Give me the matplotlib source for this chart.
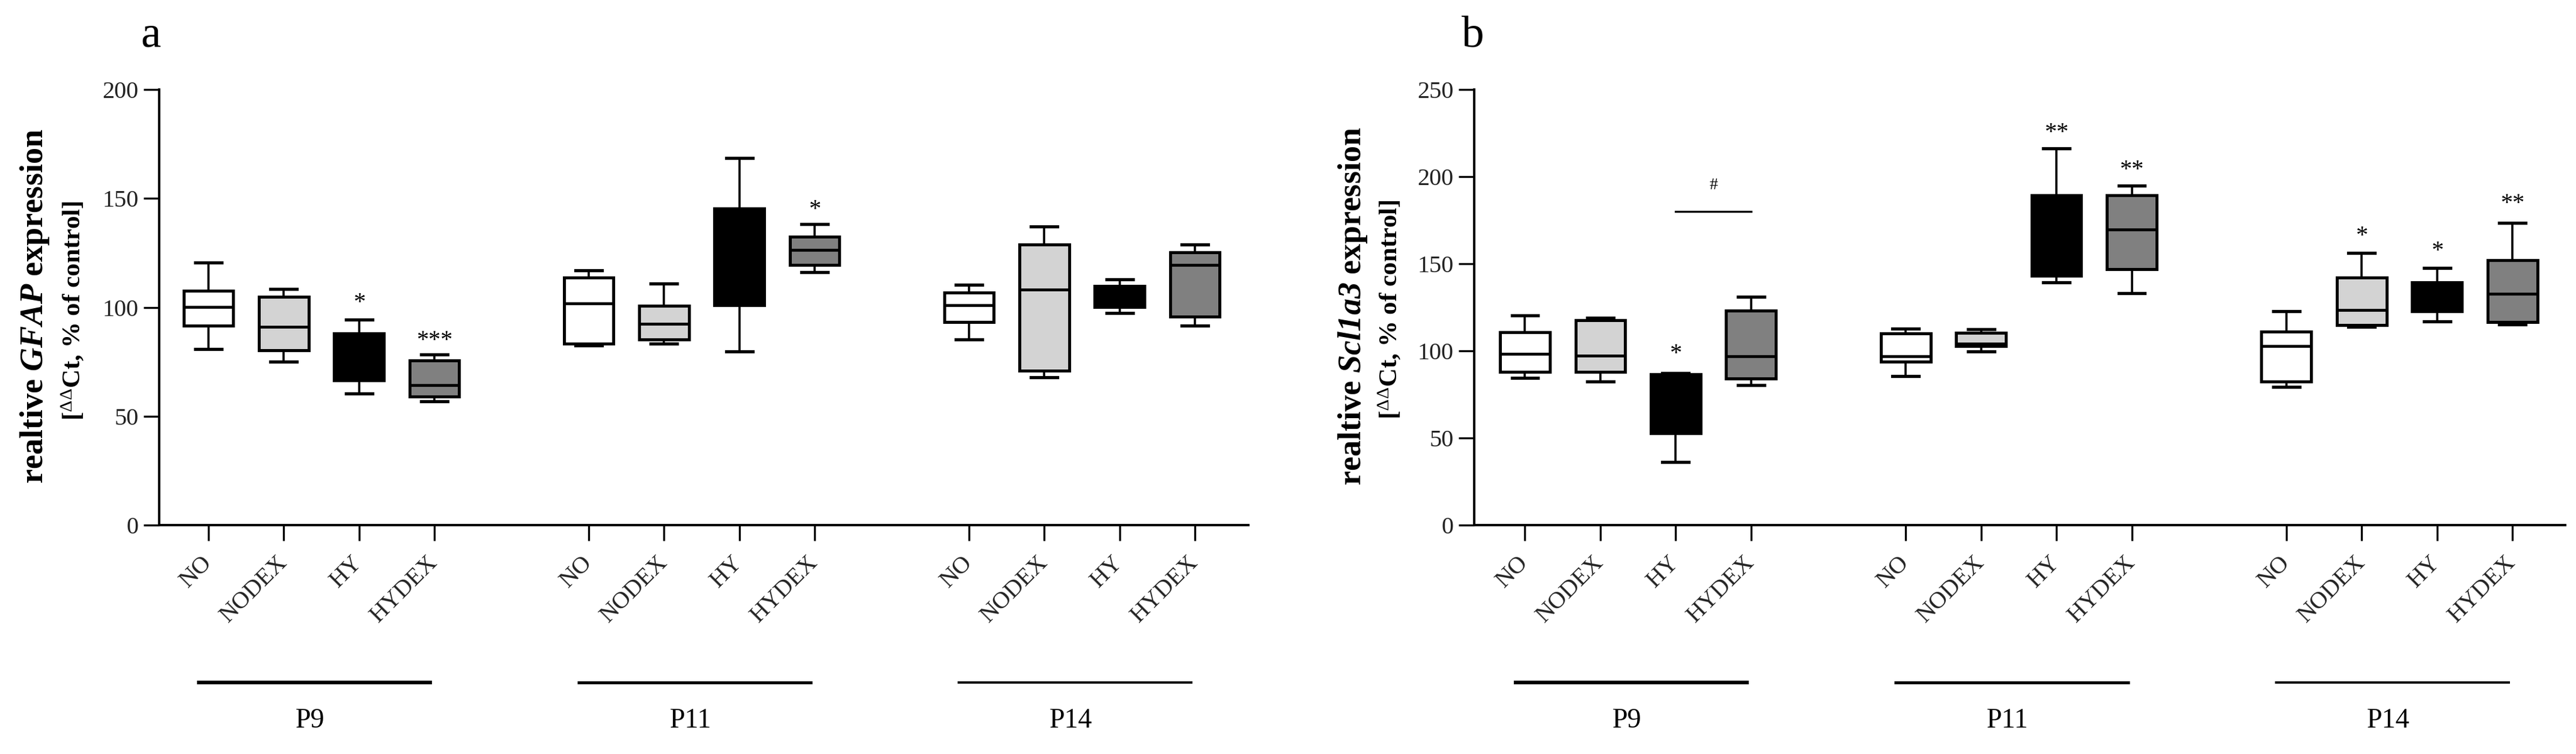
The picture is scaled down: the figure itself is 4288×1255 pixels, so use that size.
import matplotlib
matplotlib.use("Agg")
import matplotlib.pyplot as plt

plt.rcParams["font.family"] = ["Liberation Serif", "DejaVu Serif"]
plt.rcParams["mathtext.fontset"] = "custom"
plt.rcParams["mathtext.rm"] = "Liberation Serif"
plt.rcParams["mathtext.it"] = "Liberation Serif:italic"
plt.rcParams["mathtext.bf"] = "Liberation Serif:bold"
plt.rcParams["mathtext.bfit"] = "Liberation Serif:italic:bold"

groups = ["P9", "P11", "P14"]
conditions = ["NO", "NODEX", "HY", "HYDEX"]
box_colors = ["white", "#d3d3d3", "black", "#808080"]

# panel a: GFAP, box stats (P9 x4, P11 x4, P14 x4)
gfap_whishi = [120.5, 108.5, 94.3, 78.5, 117.0, 111.0, 168.5, 138.2, 110.5, 137.1, 112.8, 128.8]
gfap_q3 = [107.7, 105.0, 88.2, 75.8, 113.7, 100.8, 145.5, 132.5, 106.9, 129.0, 109.9, 125.3]
gfap_med = [100.3, 91.2, 79.5, 64.3, 101.9, 92.4, 124.8, 126.3, 101.0, 108.2, 107.0, 119.4]
gfap_q1 = [91.6, 80.4, 66.7, 59.2, 83.5, 85.4, 101.0, 119.6, 93.4, 71.0, 100.2, 95.9]
gfap_whislo = [80.9, 75.0, 60.5, 57.0, 82.5, 83.3, 79.9, 116.2, 85.4, 68.0, 97.5, 91.6]

# panel b: Scl1a3
scl_whishi = [120.5, 119.2, 87.5, 131.0, 113.0, 112.5, 216.1, 194.9, 122.7, 156.4, 147.7, 173.5]
scl_q3 = [110.8, 117.8, 86.5, 123.1, 110.2, 110.4, 189.5, 189.5, 111.0, 142.3, 139.4, 152.3]
scl_med = [98.4, 97.4, 73.6, 97.0, 97.1, 104.2, 144.4, 169.7, 102.7, 123.5, 129.5, 132.7]
scl_q1 = [88.1, 88.1, 52.9, 84.1, 93.8, 103.0, 143.3, 146.9, 82.7, 115.0, 123.0, 116.6]
scl_whislo = [84.5, 82.5, 36.4, 80.6, 85.8, 99.9, 139.5, 133.3, 79.4, 114.0, 116.9, 115.3]

# significance marks: box index, text, y (centre of the mark)
sig_a_idx = [2, 3, 7]
sig_a_text = ["*", "***", "*"]
sig_a_y = [105.8, 88.4, 148.7]

sig_b_idx = [2, 6, 7, 9, 10, 11]
sig_b_text = ["*", "**", "**", "*", "*", "**"]
sig_b_y = [103.0, 230.0, 208.5, 170.7, 161.8, 189.2]

bracket_b_idx = [2, 3]
bracket_b_y = 180
bracket_b_text = "#"
bracket_b_text_y = 195

GROUP_STEP = 5.05
positions = [g * GROUP_STEP + i for g in range(len(groups)) for i in range(len(conditions))]


def draw_panel(ax, whislo, q1, med, q3, whishi, ymax, xlim):
    stats = []
    for lo, a, m, b, hi in zip(whislo, q1, med, q3, whishi):
        stats.append({"whislo": lo, "q1": a, "med": m, "q3": b, "whishi": hi, "fliers": []})
    bp = ax.bxp(stats, positions=positions, widths=0.66, capwidths=0.35,
                patch_artist=True, showfliers=False,
                boxprops=dict(linewidth=1.8, edgecolor="black"),
                whiskerprops=dict(linewidth=1.3, color="black"),
                capprops=dict(linewidth=1.9, color="black"),
                medianprops=dict(linewidth=1.7, color="black"))
    for k, patch in enumerate(bp["boxes"]):
        patch.set_facecolor(box_colors[k % len(conditions)])

    ax.set_xlim(*xlim)
    ax.set_ylim(0, ymax)
    ax.set_yticks(range(0, ymax + 1, 50))
    ax.set_xticks(positions)
    ax.set_xticklabels(conditions * len(groups), rotation=45, ha="right", va="center",
                       rotation_mode="anchor")
    ax.spines["top"].set_visible(False)
    ax.spines["right"].set_visible(False)
    for s in ("left", "bottom"):
        ax.spines[s].set_linewidth(1.4)
    ax.tick_params(axis="both", length=9.4, width=1.2, labelsize=14.5, labelcolor="#222222")
    ax.tick_params(axis="y", pad=3)
    ax.tick_params(axis="x", pad=11)

    trans = ax.get_xaxis_transform()
    for g, (name, lw) in enumerate(zip(groups, [2.2, 1.8, 1.4])):
        p0 = g * GROUP_STEP
        ax.plot([p0 - 0.15, p0 + 2.97], [-0.36, -0.36], color="black", lw=lw,
                transform=trans, clip_on=False, solid_capstyle="butt")
        ax.text(p0 + 1.35, -0.448, name, transform=trans, ha="center", va="center",
                fontsize=16.5)


def add_sig(ax, idx, texts, ys, size=14.5):
    for i, t, y in zip(idx, texts, ys):
        ax.annotate(t, (positions[i], y), xytext=(0, -5), textcoords="offset points",
                    ha="center", va="center", fontsize=size)


fig = plt.figure(figsize=(21.44, 6.275), dpi=200)
ax_a = fig.add_axes([0.0618, 0.3032, 0.4228, 0.578])
ax_b = fig.add_axes([0.5723, 0.3032, 0.4235, 0.578])

draw_panel(ax_a, gfap_whislo, gfap_q1, gfap_med, gfap_q3, gfap_whishi, 200, (-0.654, 13.81))
draw_panel(ax_b, scl_whislo, scl_q1, scl_med, scl_q3, scl_whishi, 250, (-0.673, 13.8))

add_sig(ax_a, sig_a_idx, sig_a_text, sig_a_y)
add_sig(ax_b, sig_b_idx, sig_b_text, sig_b_y)

x0, x1 = positions[bracket_b_idx[0]], positions[bracket_b_idx[1]]
ax_b.plot([x0, x1], [bracket_b_y, bracket_b_y], color="black", lw=1.2)
ax_b.text((x0 + x1) / 2, bracket_b_text_y, bracket_b_text, ha="center", va="center", fontsize=10)

# y labels
fig.text(0.0136, 0.5936, r"realtive $\mathbfit{GFAP}$ expression", rotation=90,
         ha="center", va="center", fontsize=19.5, fontweight="bold")
fig.text(0.0284, 0.588, r"[$^{\Delta\Delta}$Ct, % of control]", rotation=90,
         ha="center", va="center", fontsize=15.5, fontweight="bold")
fig.text(0.5252, 0.5936, r"realtive $\mathbfit{Scl1a3}$ expression", rotation=90,
         ha="center", va="center", fontsize=19.5, fontweight="bold")
fig.text(0.5396, 0.5896, r"[$^{\Delta\Delta}$Ct, % of control]", rotation=90,
         ha="center", va="center", fontsize=15.5, fontweight="bold")

# panel letters
fig.text(0.0585, 0.9386, "a", ha="center", va="baseline", fontsize=27)
fig.text(0.5718, 0.9386, "b", ha="center", va="baseline", fontsize=27)

fig.savefig("out.png", dpi=200, facecolor="white")
